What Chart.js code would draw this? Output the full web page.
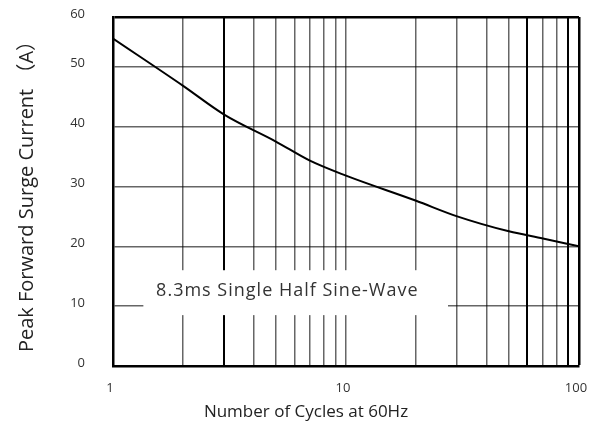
<!DOCTYPE html>
<html>
<head>
<meta charset="utf-8">
<script src="https://cdn.jsdelivr.net/npm/chart.js@4/dist/chart.umd.min.js"></script>
<style>
  html, body { margin: 0; padding: 0; background: #fff; }
  #wrap { width: 595px; height: 429px; }
</style>
</head>
<body>
<div id="wrap"><canvas id="chart"></canvas></div>
<script>
// surge current curve
const cycles = [1, 2, 3, 5, 7, 10, 20, 30, 50, 70, 100];
const surgeCurrent = [54.7, 46.8, 42.0, 37.5, 34.3, 31.8, 27.6, 25.0, 22.5, 21.3, 20.0];

const xGrid = [1, 2, 3, 4, 5, 6, 7, 8, 9, 10, 20, 30, 40, 50, 60, 70, 80, 90, 100];
const xTickLabels = ['1', '10', '100'];
const heavyX = [3, 60, 90];
const yGrid = [0, 10, 20, 30, 40, 50, 58.3]; // graph is cut just under 60
const yTickLabels = ['0', '10', '20', '30', '40', '50', '60'];

const yTitle = 'Peak Forward Surge Current （A）';
const xTitle = 'Number of Cycles at 60Hz';
const note = '8.3ms Single Half Sine-Wave';

const FONT = "'Open Sans', 'Noto Sans CJK SC', sans-serif";

// white label box over the grid, placed in data units
const notePlugin = {
  id: 'note',
  beforeDatasetsDraw(chart) {
    const { ctx, scales: { x, y } } = chart;
    const l = x.getPixelForValue(1.35), r = x.getPixelForValue(27.4);
    const t = y.getPixelForValue(16), b = y.getPixelForValue(8.5);
    ctx.save();
    ctx.fillStyle = '#fff';
    ctx.fillRect(l, t, r - l, b - t);
    ctx.fillStyle = '#333';
    ctx.font = "18px " + FONT;
    ctx.letterSpacing = '1px';
    ctx.textAlign = 'center';
    ctx.textBaseline = 'middle';
    ctx.fillText(note, x.getPixelForValue(5.6), y.getPixelForValue(12.5));
    ctx.restore();
  },
  afterDraw(chart) {
    const { ctx, chartArea } = chart;
    ctx.save();
    ctx.fillStyle = '#222';
    ctx.font = "17px " + FONT;
    ctx.textAlign = 'center';
    ctx.textBaseline = 'middle';
    ctx.fillText(xTitle, chartArea.left + 193, 412);
    ctx.restore();
  }
};

const ctx = document.getElementById('chart').getContext('2d');
const myChart = new Chart(ctx, {
  type: 'line',
  data: {
    datasets: [{
      label: 'IFSM',
      data: cycles.map((c, i) => ({ x: c, y: surgeCurrent[i] })),
      borderColor: '#000',
      borderWidth: 2,
      pointRadius: 0,
      cubicInterpolationMode: 'monotone',
      fill: false
    }]
  },
  options: {
    responsive: true,
    maintainAspectRatio: false,
    animation: false,
    layout: { padding: { left: 0, right: 16, top: 17, bottom: 0 } },
    plugins: { legend: { display: false }, tooltip: { enabled: false } },
    scales: {
      x: {
        type: 'logarithmic',
        min: 1,
        max: 100,
        afterBuildTicks: (s) => { s.ticks = xGrid.map(v => ({ value: v })); },
        afterFit: (s) => { s.height = 63; s.paddingLeft = 0; s.paddingRight = 0; },
        border: { color: '#000', width: 2.5 },
        grid: {
          drawTicks: false,
          color: (c) => (c.tick && (heavyX.includes(c.tick.value) || c.tick.value === 100)) ? '#000' : 'rgba(0,0,0,0.6)',
          lineWidth: (c) => (c.tick && c.tick.value === 100) ? 2.5 : (c.tick && heavyX.includes(c.tick.value)) ? 2 : 1.5
        },
        ticks: {
          autoSkip: false,
          maxRotation: 0,
          padding: 14,
          labelOffset: -3,
          color: '#333',
          font: { family: FONT, size: 13 },
          callback: (v) => xTickLabels.includes(String(v)) ? String(v) : ''
        }
      },
      y: {
        min: 0,
        max: 58.3,
        afterBuildTicks: (s) => { s.ticks = yGrid.map(v => ({ value: v })); },
        afterFit: (s) => { s.width = 113; s.paddingTop = 0; s.paddingBottom = 0; },
        border: { color: '#000', width: 2.5 },
        grid: {
          drawTicks: false,
          color: (c) => (c.tick && c.tick.value === 58.3) ? '#000' : 'rgba(0,0,0,0.6)',
          lineWidth: (c) => (c.tick && c.tick.value === 58.3) ? 2.5 : 1.5
        },
        ticks: {
          padding: 28,
          labelOffset: -3,
          color: '#333',
          font: { family: FONT, size: 13 },
          callback: (v, i) => yTickLabels[i]
        },
        title: {
          display: true,
          text: yTitle,
          color: '#222',
          font: { family: FONT, size: 20 },
          padding: { top: 15, bottom: 0 }
        }
      }
    }
  },
  plugins: [notePlugin]
});
</script>
</body>
</html>
